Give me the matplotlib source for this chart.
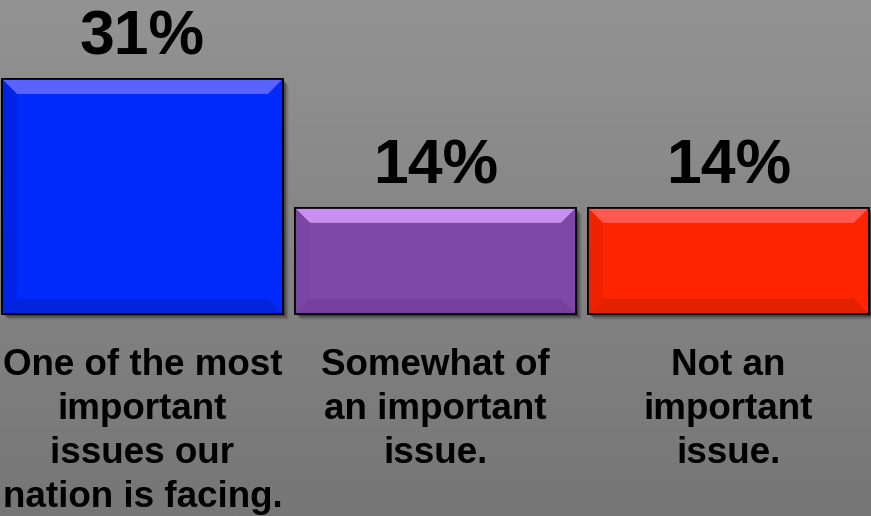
import numpy as np
import matplotlib
matplotlib.use("Agg")
import matplotlib.pyplot as plt
from matplotlib.patches import Polygon, Rectangle

# data
categories = ["One of the most\nimportant\nissues our\nnation is facing.",
              "Somewhat of\nan important\nissue.",
              "Not an\nimportant\nissue."]
values = [31, 14, 14]
value_labels = ["31%", "14%", "14%"]
colors = ["#0029fb", "#7e48a8", "#fd2400"]
top_colors = ["#5a62ff", "#c88ff0", "#ff5a52"]
side_colors = ["#0024e6", "#7a45a3", "#ef2200"]
bottom_colors = ["#0025da", "#75409c", "#e32100"]

plt.rcParams['font.family'] = ['Liberation Sans', 'DejaVu Sans']

fig = plt.figure(figsize=(8.71, 5.16), dpi=100)

# gradient background
bg = fig.add_axes([0, 0, 1, 1], zorder=0)
grad = np.linspace(0, 1, 256).reshape(-1, 1)
top = np.array([0x93, 0x93, 0x93]) / 255
bot = np.array([0x76, 0x76, 0x76]) / 255
img = top + (bot - top) * grad[:, :, None]
bg.imshow(img, aspect='auto', extent=[0, 1, 0, 1], origin='upper')
bg.axis('off')

ax = fig.add_axes([0, 0, 1, 1], zorder=1)
ax.patch.set_alpha(0)
ax.set_xlim(-0.486, 2.487)
ax.set_ylim(-26.65, 41.42)
ax.axis('off')

x = np.arange(len(values))
width = 0.959
bars = ax.bar(x, values, width, color=colors, edgecolor='black', linewidth=1.2, zorder=3)

# pixel -> data scale
fig.canvas.draw()
inv = ax.transData.inverted()
p0 = inv.transform((0, 0))
p1 = inv.transform((1, 1))
dx_px = p1[0] - p0[0]
dy_px = p1[1] - p0[1]
bev = 15

for i, rect in enumerate(bars):
    x0, y0 = rect.get_x(), rect.get_y()
    w, h = rect.get_width(), rect.get_height()
    x1, y1 = x0 + w, y0 + h
    bx, by = bev * dx_px, bev * dy_px
    # drop shadow
    for k, a in zip(range(1, 7), [0.25, 0.2, 0.16, 0.12, 0.08, 0.05]):
        ax.add_patch(Rectangle((x0 + k * dx_px, y0 - k * dy_px), w, h,
                               facecolor='black', alpha=a, edgecolor='none', zorder=2))
    ax.add_patch(Polygon([(x0, y1), (x1, y1), (x1 - bx, y1 - by), (x0 + bx, y1 - by)],
                         facecolor=top_colors[i], edgecolor='none', zorder=4))
    ax.add_patch(Polygon([(x0, y0), (x0 + bx, y0 + by), (x0 + bx, y1 - by), (x0, y1)],
                         facecolor=side_colors[i], edgecolor='none', zorder=4))
    ax.add_patch(Polygon([(x0, y0), (x1, y0), (x1 - bx, y0 + by), (x0 + bx, y0 + by)],
                         facecolor=bottom_colors[i], edgecolor='none', zorder=4))
    ax.add_patch(Rectangle((x0, y0), w, h, facecolor='none', edgecolor='black',
                           linewidth=1.2, zorder=5))
    ax.text(x0 + w / 2, y1 + 3.2, value_labels[i], ha='center', va='baseline',
            fontsize=45, fontweight='bold', color='black', zorder=6)
    ax.text(x0 + w / 2, -4.5, categories[i], ha='center', va='top',
            fontsize=26.5, fontweight='bold', color='black', linespacing=1.33, zorder=6)

fig.savefig("out.png", dpi=100)
